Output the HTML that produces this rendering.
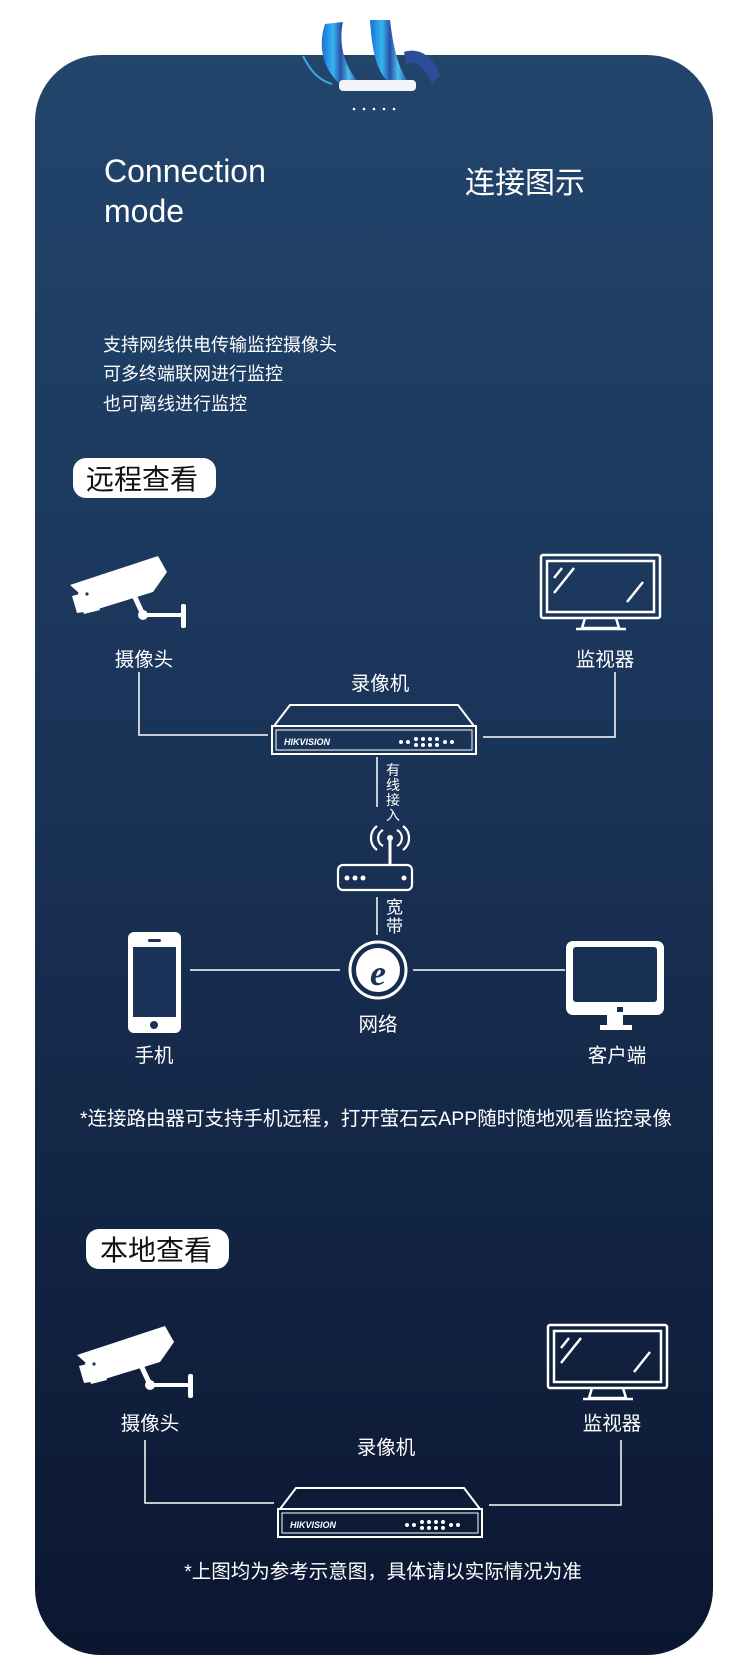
<!DOCTYPE html>
<html><head><meta charset="utf-8"><style>
html,body{margin:0;padding:0;background:#fff;width:750px;height:1676px;overflow:hidden}
svg{display:block}
text{font-family:"Liberation Sans","Noto Sans CJK SC",sans-serif;fill:#fff}
</style></head><body>
<svg width="750" height="1676" viewBox="0 0 750 1676" xmlns="http://www.w3.org/2000/svg">
<defs>
<linearGradient id="bg" x1="0" y1="0" x2="0" y2="1">
<stop offset="0" stop-color="#22456c"/><stop offset="0.45" stop-color="#1a3357"/><stop offset="1" stop-color="#0b1630"/>
</linearGradient>
<linearGradient id="rb" x1="0" y1="0" x2="1" y2="0">
<stop offset="0" stop-color="#1b6fd6"/><stop offset="0.3" stop-color="#35b5ef"/><stop offset="0.5" stop-color="#2a4fa6"/><stop offset="0.7" stop-color="#4cc0e8"/><stop offset="1" stop-color="#1d3f9a"/>
</linearGradient>
<g id="cam" fill="#fff" stroke="none">
<polygon points="0,29 88,0 97,16 83,36 28,53 10,38"/>
<polygon points="8,37 22,33 30,54 14,58"/>
<polygon points="2,40 10,38 14,56 7,57"/>
<rect x="66" y="38" width="5" height="22" transform="rotate(-25 68 49)"/>
<circle cx="73" cy="59" r="5"/>
<rect x="73" y="57" width="40" height="4"/>
<rect x="111" y="48" width="5" height="24" rx="2"/>
<circle cx="17" cy="38" r="1.6" fill="#1c3358"/>
</g>
<g id="mon" fill="none" stroke="#fff" stroke-width="2.5">
<rect x="1" y="1" width="119" height="63" rx="2"/>
<rect x="7" y="7" width="107" height="51"/>
<line x1="14" y1="24" x2="22" y2="14"/><line x1="14" y1="39" x2="34" y2="14"/><line x1="87" y1="48" x2="103" y2="28"/>
<polyline points="45,64 42,74 79,74 76,64" />
<line x1="36" y1="75" x2="86" y2="75"/>
</g>
<g id="nvr" fill="none" stroke="#fff" stroke-width="2">
<polygon points="4,24 20,3 188,3 204,24"/>
<rect x="2" y="24" width="204" height="28"/>
<rect x="6" y="28" width="196" height="20" stroke-width="1"/>
<text x="14" y="43" style="font-size:9px;font-style:italic;font-weight:bold" stroke="none">HIKVISION</text>
<g fill="#fff" stroke="none">
<circle cx="131" cy="40" r="2"/><circle cx="138" cy="40" r="2"/><circle cx="146" cy="37" r="2"/><circle cx="153" cy="37" r="2"/><circle cx="160" cy="37" r="2"/><circle cx="167" cy="37" r="2"/><circle cx="146" cy="43" r="2"/><circle cx="153" cy="43" r="2"/><circle cx="160" cy="43" r="2"/><circle cx="167" cy="43" r="2"/><circle cx="175" cy="40" r="2"/><circle cx="182" cy="40" r="2"/>
</g>
</g>
</defs>

<rect x="35" y="55" width="678" height="1600" rx="66" fill="url(#bg)"/>

<!-- ribbon -->
<g>
<path d="M325,24 C318,45 322,68 340,84 L360,84 C345,68 338,45 343,22 Z" fill="url(#rb)"/>
<path d="M370,20 C372,48 375,70 390,84 L410,84 C398,70 393,45 390,20 Z" fill="url(#rb)"/>
<path d="M404,52 C415,48 432,52 440,76 L432,84 C425,66 415,60 406,64 Z" fill="#2c4e9a"/>
<path d="M303,56 C310,70 318,80 332,84" stroke="#3aa8e0" stroke-width="2" fill="none"/>
<rect x="339" y="80" width="77" height="11" rx="4" fill="#f2f4f8"/>
</g>
<g fill="#fff"><circle cx="354" cy="109" r="1.3"/><circle cx="364" cy="109" r="1.3"/><circle cx="374" cy="109" r="1.3"/><circle cx="384" cy="109" r="1.3"/><circle cx="394" cy="109" r="1.3"/></g>

<text x="104" y="182" style="font-size:32px">Connection</text>
<text x="104" y="222" style="font-size:32px">mode</text>
<text x="465" y="193" style="font-size:30px">连接图示</text>

<text x="103" y="351" style="font-size:18px">支持网线供电传输监控摄像头</text>
<text x="103" y="380" style="font-size:18px">可多终端联网进行监控</text>
<text x="103" y="410" style="font-size:18px">也可离线进行监控</text>

<rect x="73" y="458" width="143" height="40" rx="13" fill="#fff"/>
<text x="86" y="489" style="font-size:28px;fill:#111">远程查看</text>

<!-- remote diagram -->
<use href="#cam" x="70" y="556"/>
<use href="#mon" x="540" y="554"/>
<text x="144" y="666" text-anchor="middle" style="font-size:19.5px">摄像头</text>
<text x="605" y="666" text-anchor="middle" style="font-size:19.5px">监视器</text>
<text x="380" y="690" text-anchor="middle" style="font-size:19.5px">录像机</text>
<use href="#nvr" x="270" y="702"/>
<g stroke="#fff" stroke-width="1.5" fill="none">
<polyline points="139,672 139,735 268,735"/>
<polyline points="615,672 615,737 483,737"/>
<line x1="377" y1="757" x2="377" y2="807"/>
<line x1="377" y1="897" x2="377" y2="935"/>
<line x1="190" y1="970" x2="340" y2="970"/>
<line x1="413" y1="970" x2="565" y2="970"/>
</g>
<g style="font-size:14px">
<text x="386" y="775">有</text><text x="386" y="790">线</text><text x="386" y="805">接</text><text x="386" y="820">入</text>
</g>
<text x="386" y="913" style="font-size:17px">宽</text><text x="386" y="932" style="font-size:17px">带</text>
<!-- router -->
<g stroke="#fff" fill="none" stroke-width="2.2">
<path d="M383,846 a9,9 0 0 1 0,-16"/><path d="M397,846 a9,9 0 0 0 0,-16"/>
<path d="M377,850 a15,15 0 0 1 0,-24"/><path d="M403,850 a15,15 0 0 0 0,-24"/>
<line x1="390" y1="840" x2="390" y2="864" stroke-width="3"/>
<rect x="338" y="865" width="74" height="25" rx="5"/>
</g>
<g fill="#fff"><circle cx="390" cy="838" r="3"/><circle cx="347" cy="878" r="2.5"/><circle cx="355" cy="878" r="2.5"/><circle cx="363" cy="878" r="2.5"/><circle cx="404" cy="878" r="2.5"/></g>
<!-- e globe -->
<circle cx="378" cy="970" r="28" fill="none" stroke="#fff" stroke-width="3"/>
<circle cx="378" cy="970" r="22" fill="#fff"/>
<text x="378" y="985" text-anchor="middle" style="font-size:36px;font-weight:bold;font-style:italic;fill:#1a3357;font-family:'Liberation Serif',serif">e</text>
<text x="378" y="1031" text-anchor="middle" style="font-size:19.5px">网络</text>
<!-- phone -->
<rect x="128" y="932" width="53" height="101" rx="6" fill="#fff"/>
<rect x="133" y="947" width="43" height="70" fill="#1b3358"/>
<rect x="148" y="939" width="13" height="3" rx="1.5" fill="#1b3358"/>
<circle cx="154" cy="1025" r="4" fill="#1b3358"/>
<text x="154" y="1062" text-anchor="middle" style="font-size:19.5px">手机</text>
<!-- client -->
<rect x="566" y="941" width="98" height="74" rx="7" fill="#fff"/>
<rect x="573" y="947" width="84" height="55" rx="3" fill="#172f52"/>
<rect x="617" y="1007" width="6" height="5" fill="#172f52"/>
<rect x="607" y="1015" width="16" height="12" fill="#fff"/>
<rect x="600" y="1025" width="32" height="5" fill="#fff"/>
<text x="617" y="1062" text-anchor="middle" style="font-size:19.5px">客户端</text>

<text x="80" y="1125" textLength="592" lengthAdjust="spacingAndGlyphs" style="font-size:19.5px">*连接路由器可支持手机远程，打开萤石云APP随时随地观看监控录像</text>

<rect x="86" y="1229" width="143" height="40" rx="13" fill="#fff"/>
<text x="100" y="1260" style="font-size:28px;fill:#111">本地查看</text>

<!-- local diagram -->
<use href="#cam" x="77" y="1326"/>
<use href="#mon" x="547" y="1324"/>
<text x="150" y="1430" text-anchor="middle" style="font-size:19.5px">摄像头</text>
<text x="612" y="1430" text-anchor="middle" style="font-size:19.5px">监视器</text>
<text x="386" y="1454" text-anchor="middle" style="font-size:19.5px">录像机</text>
<use href="#nvr" x="276" y="1485"/>
<g stroke="#fff" stroke-width="1.5" fill="none">
<polyline points="145,1440 145,1503 274,1503"/>
<polyline points="621,1440 621,1505 489,1505"/>
</g>

<text x="383" y="1578" text-anchor="middle" style="font-size:19.5px">*上图均为参考示意图，具体请以实际情况为准</text>
</svg>
</body></html>
